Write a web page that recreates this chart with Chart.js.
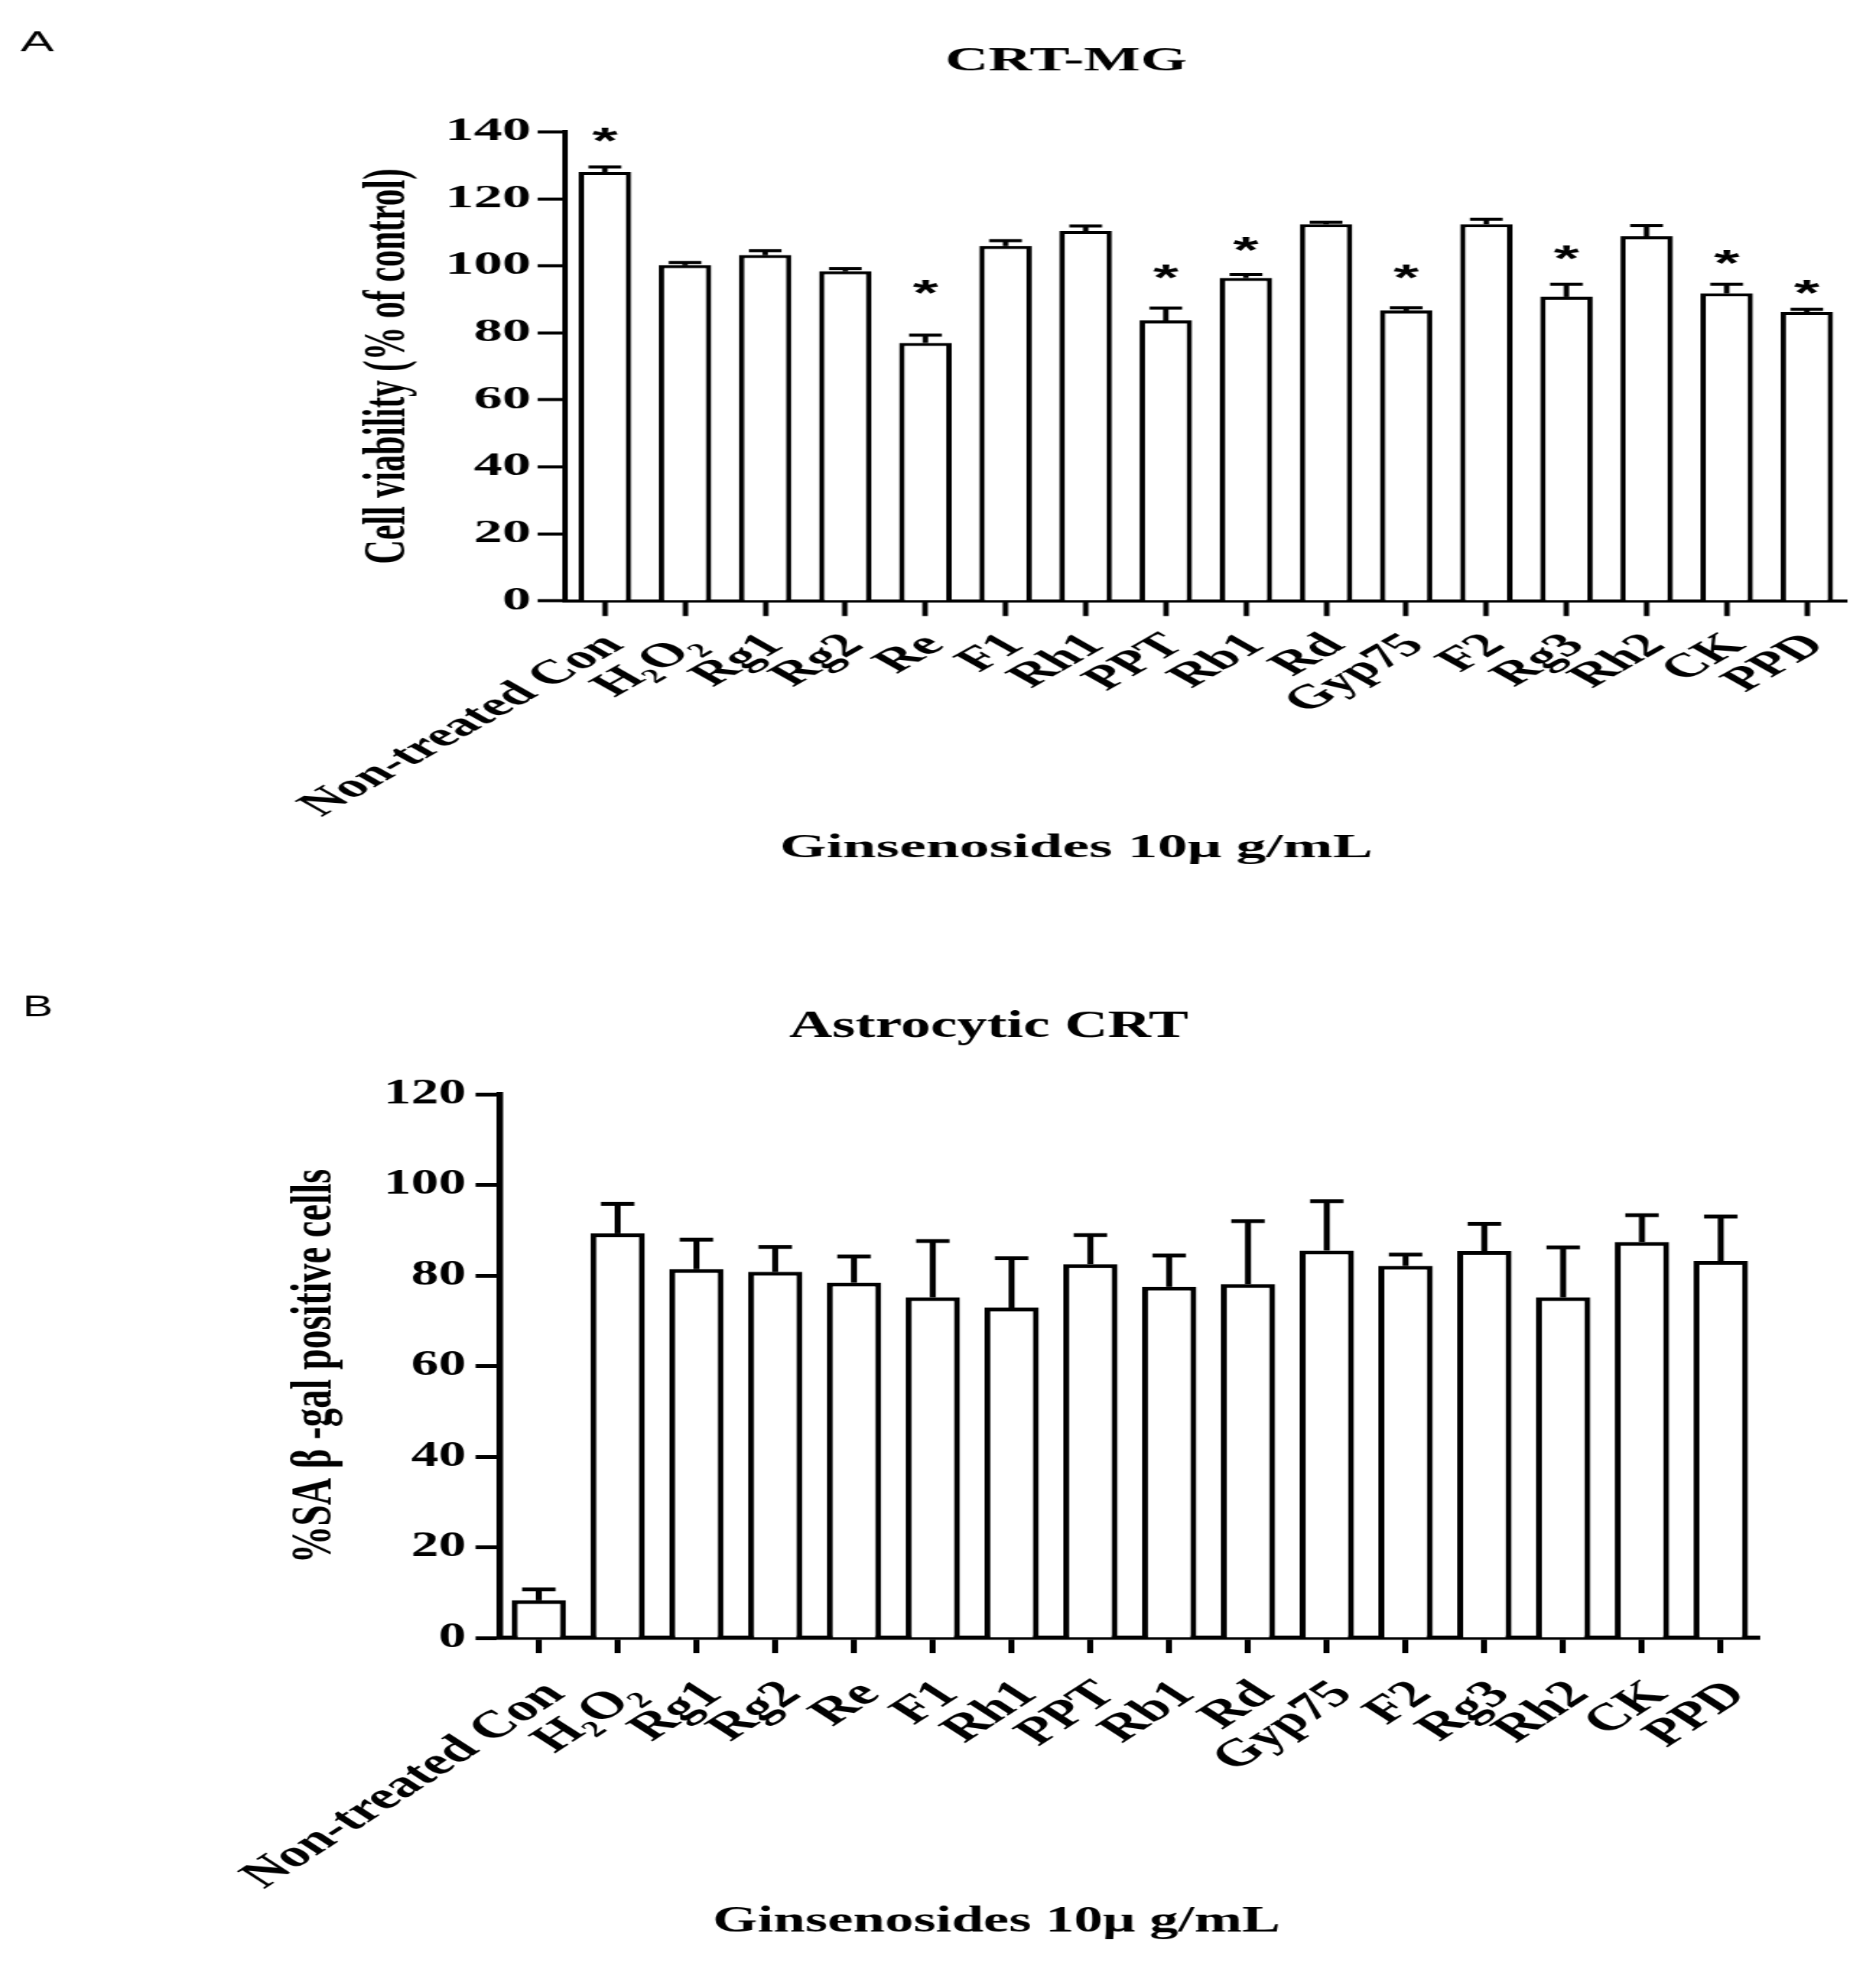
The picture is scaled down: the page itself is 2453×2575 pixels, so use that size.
<!DOCTYPE html>
<html>
<head>
<meta charset="utf-8">
<script src="https://cdn.jsdelivr.net/npm/chart.js@4.4.1/dist/chart.umd.min.js"></script>
<style>
html,body{margin:0;padding:0;background:#fff;}
body{width:2453px;height:2575px;overflow:hidden;position:relative;}
.panel{position:absolute;left:0;transform-origin:0 0;}
</style>
</head>
<body>
<div class="panel" style="top:0;width:1378px;height:1250px;transform:scaleX(1.780116)"><canvas id="ca" width="1378" height="1250"></canvas></div>
<div class="panel" style="top:1250px;width:1572px;height:1325px;transform:scaleX(1.560433)"><canvas id="cb" width="1572" height="1325"></canvas></div>
<script>
// ---------------- data ----------------
const categories = ['Non-treated Con','H\u2082O\u2082','Rg1','Rg2','Re','F1','Rh1','PPT','Rb1','Rd','Gyp75','F2','Rg3','Rh2','CK','PPD'];

// Panel A: CRT-MG cell viability (% of control)
const viabilityMean = [128.0, 100.2, 103.2, 98.4, 77.0, 105.9, 110.4, 83.7, 96.4, 112.4, 86.7, 112.4, 90.8, 108.8, 91.8, 86.2];
const viabilityErr  = [1.5, 0.8, 1.3, 0.8, 2.3, 1.6, 1.5, 3.7, 1.0, 0.6, 0.8, 1.5, 3.7, 3.2, 2.7, 0.8];
// level (in axis units) at which a significance asterisk is shown; null = none
const viabilityStar = [139.2, null, null, null, 93.8, null, null, 98.4, 106.6, null, 98.4, null, 104.0, null, 102.7, 93.8];
const viabilityTicks = [0, 20, 40, 60, 80, 100, 120, 140];

// Panel B: Astrocytic CRT, % SA-beta-gal positive cells
const sagalMean = [8.3, 89.3, 81.4, 80.8, 78.4, 75.2, 72.9, 82.5, 77.5, 78.1, 85.5, 82.1, 85.4, 75.2, 87.4, 83.2];
const sagalErr  = [2.4, 6.5, 6.5, 5.5, 5.8, 12.4, 10.9, 6.4, 6.9, 13.9, 10.9, 2.5, 6.0, 11.0, 5.9, 9.8];
const sagalTicks = [0, 20, 40, 60, 80, 100, 120];

// ---------------- helpers ----------------
const SERIF = '"Liberation Serif", "Times New Roman", serif';
const SANS = '"Liberation Sans", Arial, sans-serif';

function errorBarPlugin(errors, stars, cap, lw, starFont) {
  return {
    id: 'errorBars',
    afterDatasetsDraw(chart) {
      const ctx = chart.ctx, x = chart.scales.x, y = chart.scales.y;
      const data = chart.data.datasets[0].data;
      ctx.save();
      ctx.strokeStyle = '#000';
      ctx.lineWidth = lw;
      ctx.lineCap = 'butt';
      data.forEach((v, i) => {
        const px = x.getPixelForValue(i);
        const yb = y.getPixelForValue(v);
        const yt = y.getPixelForValue(v + errors[i]);
        ctx.beginPath(); ctx.moveTo(px, yb); ctx.lineTo(px, yt); ctx.stroke();
        ctx.beginPath(); ctx.moveTo(px - cap / 2, yt); ctx.lineTo(px + cap / 2, yt); ctx.stroke();
        if (stars && stars[i] != null) {
          ctx.font = starFont;
          ctx.fillStyle = '#000';
          ctx.textAlign = 'center';
          ctx.textBaseline = 'alphabetic';
          const m = ctx.measureText('*');
          const sy = y.getPixelForValue(stars[i]);
          ctx.fillText('*', px, sy + (m.actualBoundingBoxAscent - m.actualBoundingBoxDescent) / 2);
        }
      });
      ctx.restore();
    }
  };
}

function textPlugin(items) {
  return {
    id: 'panelText',
    afterDraw(chart) {
      const ctx = chart.ctx;
      ctx.save();
      ctx.fillStyle = '#000';
      ctx.textBaseline = 'alphabetic';
      items.forEach(t => {
        ctx.font = t.font;
        ctx.textAlign = t.align;
        ctx.fillText(t.text, t.x, t.y);
      });
      ctx.restore();
    }
  };
}

function makeChart(canvasId, cfg) {
  const tickVals = cfg.ticks;
  return new Chart(document.getElementById(canvasId), {
    type: 'bar',
    data: {
      labels: categories,
      datasets: [{
        data: cfg.values,
        backgroundColor: '#ffffff',
        borderColor: '#000000',
        borderWidth: cfg.lw,
        borderSkipped: 'start',
        barPercentage: cfg.barPct,
        categoryPercentage: 1
      }]
    },
    options: {
      responsive: false,
      animation: false,
      devicePixelRatio: 1,
      events: [],
      layout: { padding: { left: 0, right: cfg.padRight, top: cfg.padTop, bottom: 0 } },
      plugins: { legend: { display: false }, tooltip: { enabled: false }, title: { display: false } },
      scales: {
        x: {
          type: 'category',
          offset: true,
          grid: { display: true, drawOnChartArea: false, offset: false, drawTicks: true,
                  tickLength: cfg.xTickLen, tickWidth: cfg.lw, tickColor: '#000' },
          border: { display: true, color: '#000', width: cfg.axisW },
          ticks: { autoSkip: false, minRotation: 45, maxRotation: 45, color: '#000',
                   padding: cfg.xPad, labelOffset: cfg.xLabelOffset,
                   font: { family: SERIF, weight: 'bold', size: cfg.xFont } },
          afterFit: s => { s.height = cfg.xHeight; }
        },
        y: {
          min: tickVals[0],
          max: tickVals[tickVals.length - 1],
          afterBuildTicks: s => { s.ticks = tickVals.map(v => ({ value: v })); },
          grid: { display: true, drawOnChartArea: false, drawTicks: true,
                  tickLength: 20, tickWidth: cfg.lw, tickColor: '#000' },
          border: { display: true, color: '#000', width: cfg.axisW },
          ticks: { color: '#000', padding: cfg.yPad,
                   font: { family: SERIF, weight: 'bold', size: cfg.yFont } },
          title: { display: true, text: cfg.yTitle, color: '#000',
                   font: { family: SERIF, weight: 'bold', size: cfg.yTitleFont },
                   padding: { top: cfg.yTitlePad, bottom: 0 } },
          afterFit: s => { s.width = cfg.yWidth; }
        }
      }
    },
    plugins: [
      errorBarPlugin(cfg.errors, cfg.stars, cfg.cap, cfg.lw, 'bold 48px ' + SANS),
      textPlugin(cfg.texts)
    ]
  });
}

makeChart('ca', {
  values: viabilityMean, errors: viabilityErr, stars: viabilityStar, ticks: viabilityTicks,
  lw: 4, axisW: 4, barPct: 0.655, cap: 24,
  padTop: 172.4, padRight: 15.6, yWidth: 414.9, xHeight: 464.3,
  xTickLen: 20, xPad: 13, xLabelOffset: 7, xFont: 44,
  yPad: 5, yFont: 42,
  yTitle: 'Cell viability (% of control)', yTitleFont: 44, yTitlePad: 258.8,
  texts: [
    { text: 'A', x: 15, y: 67, font: '37px ' + SANS, align: 'left' },
    { text: 'CRT-MG', x: 783, y: 92, font: 'bold 44px ' + SERIF, align: 'center' },
    { text: 'Ginsenosides 10\u03bc g/mL', x: 790.5, y: 1121, font: 'bold 44px ' + SERIF, align: 'center' }
  ]
});

makeChart('cb', {
  values: sagalMean, errors: sagalErr, stars: null, ticks: sagalTicks,
  lw: 5, axisW: 5.5, barPct: 0.69, cap: 28,
  padTop: 181, padRight: 97.1, yWidth: 418.5, xHeight: 433,
  xTickLen: 20, xPad: 25, xLabelOffset: 14, xFont: 50,
  yPad: 8, yFont: 46,
  yTitle: '%SA \u03b2 -gal positive cells', yTitleFont: 49, yTitlePad: 234.6,
  texts: [
    { text: 'B', x: 19, y: 79, font: '38px ' + SANS, align: 'left' },
    { text: 'Astrocytic CRT', x: 828.6, y: 106, font: 'bold 50px ' + SERIF, align: 'center' },
    { text: 'Ginsenosides 10\u03bc g/mL', x: 835, y: 1276, font: 'bold 48px ' + SERIF, align: 'center' }
  ]
});
</script>
</body>
</html>
